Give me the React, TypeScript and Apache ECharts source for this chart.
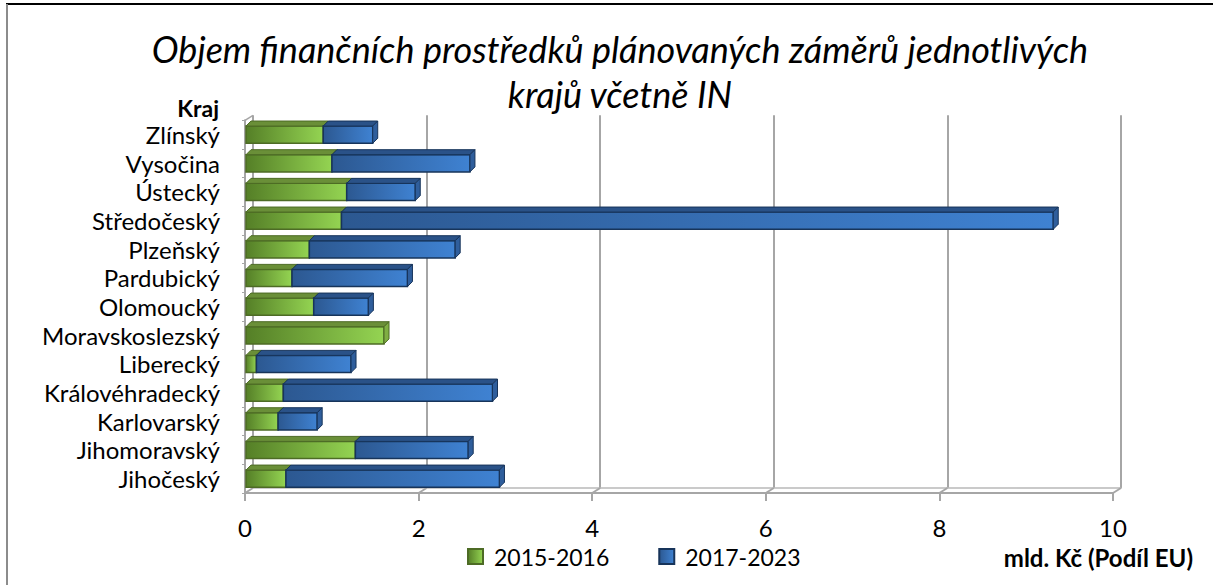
import React, { useEffect, useRef } from "react";
import * as echarts from "echarts";

const categories = [
  "Jihočeský", "Jihomoravský", "Karlovarský", "Královéhradecký", "Liberecký",
  "Moravskoslezský", "Olomoucký", "Pardubický", "Plzeňský", "Středočeský",
  "Ústecký", "Vysočina", "Zlínský",
];
const values2015 = [0.46, 1.26, 0.37, 0.43, 0.12, 1.59, 0.78, 0.53, 0.73, 1.10, 1.16, 0.99, 0.89];
const values2017 = [2.46, 1.30, 0.45, 2.41, 1.09, 0, 0.63, 1.33, 1.68, 8.20, 0.79, 1.59, 0.57];
const xTicks = [0, 2, 4, 6, 8, 10];
const seriesNames = ["2015-2016", "2017-2023"];
const titleText = "Objem finančních prostředků plánovaných záměrů jednotlivých\nkrajů včetně IN";
const yAxisTitle = "Kraj";
const xAxisTitle = "mld. Kč (Podíl EU)";

const FONT = "Lato, 'Open Sans', sans-serif";
const DX = 5;
const DY = 5;
const WALL_DX = 8;
const WALL_DY = 5;

function grad(c0: string, c1: string) {
  return new echarts.graphic.LinearGradient(0, 0, 1, 0, [
    { offset: 0, color: c0 },
    { offset: 1, color: c1 },
  ]);
}

const palettes = [
  { front0: "#557f27", front1: "#94d452", top: "#6a8f38", side: "#7fae43", stroke: "#4d6b25" },
  { front0: "#2c5891", front1: "#3f82d2", top: "#2a5288", side: "#2f5e9c", stroke: "#17345a" },
];

function makeRender(p: any) {
  return (params: any, api: any) => {
    const v0 = api.value(0);
    const v1 = api.value(1);
    if (!(v1 > v0)) return null;
    const s = api.coord([v0, api.value(2)]);
    const e = api.coord([v1, api.value(2)]);
    const h = api.size([0, 1])[1] * 0.6;
    const y0 = s[1] - h / 2;
    const x0 = s[0] + 1;
    const x1 = e[0] + 1;
    return {
      type: "group",
      children: [
        {
          type: "rect",
          shape: { x: x0, y: y0, width: x1 - x0, height: h },
          style: { fill: grad(p.front0, p.front1), stroke: p.stroke, lineWidth: 1.5 },
        },
        {
          type: "polygon",
          shape: { points: [[x0, y0], [x1, y0], [x1 + DX, y0 - DY], [x0 + DX, y0 - DY]] },
          style: { fill: p.top, stroke: p.stroke, lineWidth: 1 },
        },
        {
          type: "polygon",
          shape: { points: [[x1, y0], [x1 + DX, y0 - DY], [x1 + DX, y0 + h - DY], [x1, y0 + h]] },
          style: { fill: p.side, stroke: p.stroke, lineWidth: 1 },
        },
      ],
    };
  };
}

export default function App() {
  const ref = useRef<HTMLDivElement>(null);
  useEffect(() => {
    if (!ref.current) return;
    const chart = echarts.init(ref.current, null, { renderer: "svg" });
    const gridW = 868;
    const gridH = 372.7;
    const option: any = {
      animation: false,
      backgroundColor: "#ffffff",
      title: {
        text: titleText,
        left: 615,
        top: 21,
        textAlign: "center",
        textStyle: {
          fontFamily: FONT,
          fontStyle: "italic",
          fontWeight: "normal",
          fontSize: 36,
          lineHeight: 45,
          color: "#000",
        },
      },
      legend: {
        data: seriesNames,
        left: 467,
        top: 545,
        padding: 0,
        icon: "rect",
        itemWidth: 15,
        itemHeight: 15,
        itemGap: 49,
        textStyle: { fontFamily: FONT, fontSize: 23, color: "#000", padding: [0, 0, 0, 6] },
      },
      grid: [
        { left: 245, top: 120.3, width: gridW, height: gridH },
        { left: 245 + WALL_DX, top: 120.3 - WALL_DY, width: gridW, height: gridH },
      ],
      xAxis: [
        {
          gridIndex: 0,
          type: "value",
          min: 0,
          max: 10,
          interval: 2,
          splitLine: { show: false },
          axisLine: { show: true, lineStyle: { color: "#a6a6a6", width: 2 } },
          axisTick: { show: true, length: 8, lineStyle: { color: "#a6a6a6", width: 2 } },
          axisLabel: { fontFamily: FONT, fontSize: 24, color: "#000", margin: 22 },
        },
        {
          gridIndex: 1,
          type: "value",
          min: 0,
          max: 10,
          interval: 2,
          splitLine: { show: true, lineStyle: { color: "#a6a6a6", width: 2 } },
          axisLine: { show: true, lineStyle: { color: "#b8b8b8", width: 1.5 } },
          axisTick: { show: false },
          axisLabel: { show: false },
        },
      ],
      yAxis: [
        {
          gridIndex: 0,
          type: "category",
          data: categories,
          axisLine: { show: true, lineStyle: { color: "#a6a6a6", width: 2 } },
          axisTick: { show: true, length: 3, lineStyle: { color: "#a6a6a6" } },
          axisLabel: { interval: 0, fontFamily: FONT, fontSize: 24, color: "#000", margin: 25 },
        },
        {
          gridIndex: 1,
          type: "category",
          data: categories,
          axisLine: { show: false },
          axisTick: { show: false },
          axisLabel: { show: false },
        },
      ],
      series: [
        {
          type: "custom",
          name: "floor",
          xAxisIndex: 0,
          yAxisIndex: 0,
          silent: true,
          z: 1,
          data: xTicks.map((v) => [v, 0]),
          encode: { x: 0, y: 1 },
          renderItem: (params: any, api: any) => {
            const cs = params.coordSys;
            const x = api.coord([api.value(0), 0])[0];
            const yb = cs.y + cs.height;
            const children: any[] = [
              {
                type: "line",
                shape: { x1: x, y1: yb, x2: x + WALL_DX, y2: yb - WALL_DY },
                style: { stroke: "#a6a6a6", lineWidth: 2 },
              },
            ];
            if (api.value(0) === 0) {
              children.push({
                type: "line",
                shape: { x1: x, y1: cs.y, x2: x + WALL_DX, y2: cs.y - WALL_DY },
                style: { stroke: "#a6a6a6", lineWidth: 1.5 },
              });
            }
            return { type: "group", children };
          },
        },
        {
          type: "custom",
          name: seriesNames[0],
          xAxisIndex: 0,
          yAxisIndex: 0,
          z: 3,
          itemStyle: { color: grad(palettes[0].front0, palettes[0].front1), borderColor: palettes[0].stroke, borderWidth: 1.5 },
          data: categories.map((c, i) => [0, values2015[i], i]),
          encode: { x: [0, 1], y: 2 },
          renderItem: makeRender(palettes[0]),
        },
        {
          type: "custom",
          name: seriesNames[1],
          xAxisIndex: 0,
          yAxisIndex: 0,
          z: 4,
          itemStyle: { color: grad(palettes[1].front0, palettes[1].front1), borderColor: palettes[1].stroke, borderWidth: 1.5 },
          data: categories.map((c, i) => [values2015[i], values2015[i] + values2017[i], i]),
          encode: { x: [0, 1], y: 2 },
          renderItem: makeRender(palettes[1]),
        },
      ],
      graphic: [
        {
          type: "line",
          shape: { x1: 6, y1: 4, x2: 1213, y2: 4 },
          style: { stroke: "#000", lineWidth: 2 },
        },
        {
          type: "line",
          shape: { x1: 7, y1: 4, x2: 7, y2: 585 },
          style: { stroke: "#8c8c8c", lineWidth: 2 },
        },
        {
          type: "text",
          x: 219,
          y: 108,
          style: {
            text: yAxisTitle,
            fontFamily: FONT,
            fontWeight: "bold",
            fontSize: 23,
            fill: "#000",
            align: "right",
            verticalAlign: "middle",
          },
        },
        {
          type: "text",
          x: 1193,
          y: 557,
          style: {
            text: xAxisTitle,
            fontFamily: FONT,
            fontWeight: "bold",
            fontSize: 24,
            fill: "#000",
            align: "right",
            verticalAlign: "middle",
          },
        },
      ],
    };
    chart.setOption(option);
    return () => chart.dispose();
  }, []);
  return (
    <div
      ref={ref}
      style={{ position: "fixed", left: 0, top: 0, width: 1213, height: 585, background: "#fff" }}
    />
  );
}
